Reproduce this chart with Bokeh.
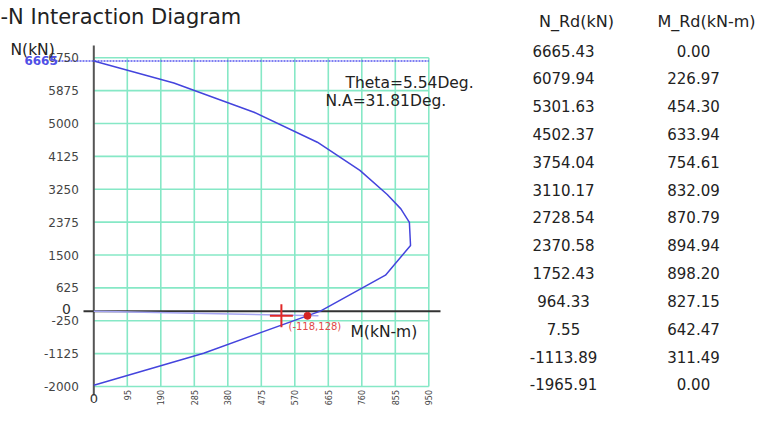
import math
from bokeh.plotting import figure
from bokeh.models import Range1d
from bokeh.core.properties import value
from bokeh.embed import file_html
from bokeh.resources import INLINE

# ---------------- data ----------------
title_text = "-N Interaction Diagram"
N_rd = [6665.43, 6079.94, 5301.63, 4502.37, 3754.04, 3110.17, 2728.54,
        2370.58, 1752.43, 964.33, 7.55, -1113.89, -1965.91]
M_rd = [0.00, 226.97, 454.30, 633.94, 754.61, 832.09, 870.79,
        894.94, 898.20, 827.15, 642.47, 311.49, 0.00]
x_ticks = [95, 190, 285, 380, 475, 570, 665, 760, 855, 950]
y_ticks = [6750, 5875, 5000, 4125, 3250, 2375, 1500, 625, -250, -1125, -2000]
load_M = [532]
load_N = [-118]
cap_M = [606]
cap_N = [-118]
ray_M = [0, 637]
ray_N = [0, -118]
load_label = "(-118,128)"
theta_text = "Theta=5.54Deg."
na_text = "N.A=31.81Deg."
y_axis_title = "N(kN)"
x_axis_title = "M(kN-m)"
table_headers = ["N_Rd(kN)", "M_Rd(kN-m)"]

# ---------------- layout helpers (pixel -> data) ----------------
W, H = 757, 406
SX, X0 = 0.35263, 93.3                 # px per kN-m, pixel x of M=0
TOP_PX, BOT_PX = 57.3, 386.0           # pixel y of N=6750 and N=-2000
SY = (BOT_PX - TOP_PX) / (y_ticks[0] - y_ticks[-1])
Y0 = TOP_PX + y_ticks[0] * SY          # pixel y of N=0


def M_at(px):
    return (px - X0) / SX


def N_at(py):
    return (Y0 - py) / SY


FONT = value("DejaVu Sans")

p = figure(width=W, height=H,
           x_range=Range1d(M_at(0), M_at(W)),
           y_range=Range1d(N_at(H), N_at(0)),
           output_backend="svg", toolbar_location=None,
           x_axis_location=None, y_axis_location=None,
           min_border=0, outline_line_color=None,
           background_fill_color="white", border_fill_color="white")
p.grid.visible = False

GRID = "#86e8c6"
# grid lines
p.segment(x0=[0] * len(y_ticks), y0=y_ticks, x1=[x_ticks[-1]] * len(y_ticks), y1=y_ticks,
          line_color=GRID, line_width=1.6)
p.segment(x0=x_ticks, y0=[y_ticks[-1]] * len(x_ticks), x1=x_ticks, y1=[y_ticks[0]] * len(x_ticks),
          line_color=GRID, line_width=1.6)

# axis lines
p.line([0, 0], [N_at(BOT_PX + 9), N_at(45)], line_color="#555555", line_width=2)
p.line([M_at(83), M_at(440)], [0, 0], line_color="#333333", line_width=2)

# dotted max-N line
p.line([M_at(55), x_ticks[-1]], [N_rd[0], N_rd[0]], line_color="#5555ee",
       line_width=1.6, line_dash="2 1")

# interaction curve
p.line(M_rd, N_rd, line_color="#4444dd", line_width=1.5)

# ray through load point
p.line(ray_M, ray_N, line_color="#a4a4f2", line_width=1.5)

# load point & capacity point
p.scatter(load_M, load_N, marker="cross", size=23, line_color="#e02828", line_width=2)
p.scatter(cap_M, cap_N, marker="circle", size=7, fill_color="#d42424", line_color="#d42424")

# y tick labels
p.text(x=[0] * len(y_ticks), y=y_ticks, text=[str(v) for v in y_ticks],
       x_offset=-15, text_align="right", text_baseline="middle",
       text_font=FONT, text_font_size="12px", text_color="#444444")
p.text(x=[0], y=[0], text=["0"], x_offset=-23, y_offset=-2, text_align="right",
       text_baseline="middle", text_font=FONT, text_font_size="14px", text_color="#333333")

# x tick labels (rotated)
p.text(x=x_ticks, y=[y_ticks[-1]] * len(x_ticks), text=[str(v) for v in x_ticks],
       angle=math.pi / 2, y_offset=3.5, text_align="right", text_baseline="middle",
       text_font=FONT, text_font_size="8px", text_color="#444444")
p.text(x=[0], y=[y_ticks[-1]], text=["0"], y_offset=12, text_align="center",
       text_baseline="middle", text_font=FONT, text_font_size="13px", text_color="#333333")

# max N label
p.text(x=[0], y=[N_rd[0]], text=[f"{N_rd[0]:.0f}"], x_offset=-36, text_align="right",
       text_baseline="middle", text_font=FONT, text_font_size="12px",
       text_font_style="bold", text_color="#5050e6")

# axis titles and annotations
p.text(x=[M_at(10)], y=[N_at(49)], text=[y_axis_title], text_align="left",
       text_baseline="middle", text_font=FONT, text_font_size="15.5px", text_color="#222222")
p.text(x=[M_at(350)], y=[0], y_offset=20.5, text=[x_axis_title], text_align="left",
       text_baseline="alphabetic", text_font=FONT, text_font_size="15.5px", text_color="#222222")
p.text(x=[M_at(288)], y=[0], y_offset=15.5, text=[load_label], text_align="left",
       text_baseline="middle", text_font=FONT, text_font_size="10px", text_color="#e04848")
p.text(x=[M_at(345)], y=[N_at(82)], text=[theta_text], text_align="left",
       text_baseline="alphabetic", text_font=FONT, text_font_size="15.5px", text_color="#222222")
p.text(x=[M_at(325)], y=[N_at(100)], text=[na_text], text_align="left",
       text_baseline="alphabetic", text_font=FONT, text_font_size="15.5px", text_color="#222222")

# title
p.text(x=[M_at(0)], y=[N_at(16)], text=[title_text], text_align="left",
       text_baseline="alphabetic", text_font=FONT, text_font_size="21px", text_color="#222222")

# table
p.text(x=[M_at(576), M_at(706)], y=[N_at(21), N_at(21)], text=table_headers,
       text_align="center", text_baseline="middle", text_font=FONT,
       text_font_size="16px", text_color="#222222")
row_y = [N_at(50 + i * 27.83) for i in range(len(N_rd))]
p.text(x=[M_at(563)] * len(N_rd), y=row_y, text=[f"{v:.2f}" for v in N_rd],
       text_align="center", text_baseline="middle", text_font=FONT,
       text_font_size="15px", text_color="#222222")
p.text(x=[M_at(693)] * len(M_rd), y=row_y, text=[f"{v:.2f}" for v in M_rd],
       text_align="center", text_baseline="middle", text_font=FONT,
       text_font_size="15px", text_color="#222222")

open("out.html", "w").write(file_html(p, INLINE))
